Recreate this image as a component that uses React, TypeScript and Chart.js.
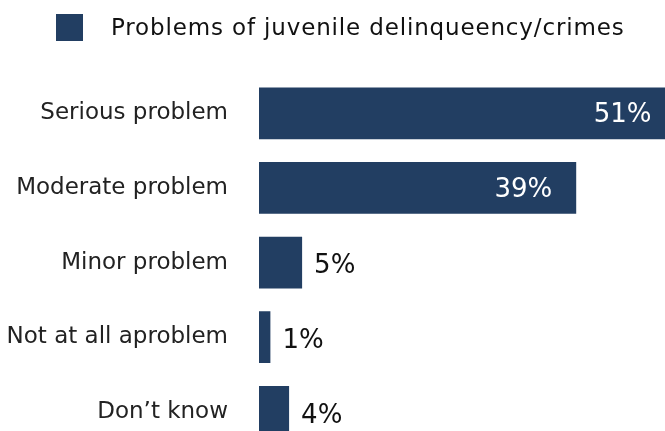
import React, { useEffect, useRef } from "react";
import { Chart, registerables } from "chart.js";

Chart.register(...registerables);

const categories = [
  "Serious problem",
  "Moderate problem",
  "Minor problem",
  "Not at all aproblem",
  "Don\u2019t know",
];
const values = [51.2, 39.0, 5.3, 1.4, 3.7];
const seriesLabel = "Problems of juvenile delinqueency/crimes";
const xMax = 60;

const BAR_COLOR = "#223e62";
const FONT = "'DejaVu Sans', sans-serif";

const valueLabels = {
  id: "valueLabels",
  afterDatasetsDraw(chart: any) {
    const ctx = chart.ctx;
    const meta = chart.getDatasetMeta(0);
    const data = chart.data.datasets[0].data as number[];
    ctx.save();
    ctx.font = `26px ${FONT}`;
    ctx.textBaseline = "middle";
    meta.data.forEach((bar: any, i: number) => {
      const v = data[i];
      const txt = Math.round(v) + "%";
      if (v > 20) {
        ctx.fillStyle = "#ffffff";
        ctx.textAlign = "right";
        ctx.fillText(txt, bar.x - 24, bar.y + 2);
      } else {
        ctx.fillStyle = "#111111";
        ctx.textAlign = "left";
        ctx.fillText(txt, bar.x + 12, bar.y + 4);
      }
    });
    ctx.restore();
  },
};

const customLegend = {
  id: "customLegend",
  afterDraw(chart: any) {
    const ctx = chart.ctx;
    const ds = chart.data.datasets[0];
    ctx.save();
    ctx.fillStyle = ds.backgroundColor;
    ctx.fillRect(56, 14, 27, 27);
    ctx.fillStyle = "#111111";
    ctx.font = `23px ${FONT}`;
    try {
      (ctx as any).letterSpacing = "0.85px";
    } catch (e) {}
    ctx.textBaseline = "middle";
    ctx.textAlign = "left";
    ctx.fillText(ds.label, 111, 29);
    ctx.restore();
  },
};

export default function App() {
  const ref = useRef<HTMLCanvasElement | null>(null);
  useEffect(() => {
    if (!ref.current) return;
    const chart = new Chart(ref.current, {
      type: "bar",
      data: {
        labels: categories,
        datasets: [
          {
            label: seriesLabel,
            data: values,
            backgroundColor: BAR_COLOR,
            categoryPercentage: 1,
            barPercentage: 52 / 75,
          },
        ],
      },
      options: {
        indexAxis: "y",
        animation: false,
        responsive: false,
        devicePixelRatio: 1,
        layout: { padding: { top: 76, bottom: 0, left: 0, right: 13 } },
        plugins: {
          legend: { display: false },
          tooltip: { enabled: false },
          title: { display: false },
        },
        scales: {
          x: { display: false, min: 0, max: xMax },
          y: {
            grid: { display: false, drawTicks: false },
            border: { display: false },
            ticks: {
              padding: 31,
              color: "#222222",
              font: { family: FONT, size: 23 },
            },
            afterFit(scale: any) {
              scale.width = 259;
            },
          },
        },
      },
      plugins: [valueLabels, customLegend],
    });
    return () => chart.destroy();
  }, []);
  return (
    <div
      style={{
        position: "fixed",
        left: 0,
        top: 0,
        width: 665,
        height: 431,
        overflow: "hidden",
        background: "#ffffff",
      }}
    >
      <canvas ref={ref} width={760} height={494} style={{ display: "block" }} />
    </div>
  );
}
